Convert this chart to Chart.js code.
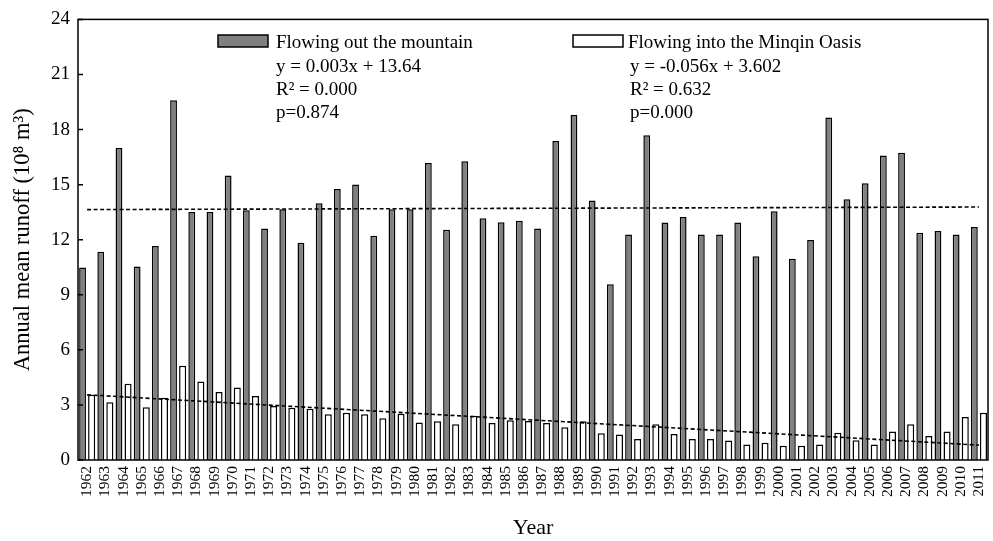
<!DOCTYPE html>
<html>
<head>
<meta charset="utf-8">
<script src="https://cdn.jsdelivr.net/npm/chart.js@4.4.0/dist/chart.umd.min.js"></script>
<style>
  body { margin: 0; background: #fff; }
  #wrap { width: 993px; height: 541px; position: relative; }
</style>
</head>
<body>
<div id="wrap"><canvas id="runoffChart"></canvas></div>
<script>
var years = ['1962', '1963', '1964', '1965', '1966', '1967', '1968', '1969', '1970', '1971',
  '1972', '1973', '1974', '1975', '1976', '1977', '1978', '1979', '1980', '1981',
  '1982', '1983', '1984', '1985', '1986', '1987', '1988', '1989', '1990', '1991',
  '1992', '1993', '1994', '1995', '1996', '1997', '1998', '1999', '2000', '2001',
  '2002', '2003', '2004', '2005', '2006', '2007', '2008', '2009', '2010', '2011'];

// flowing out the mountain (10^8 m3)
var outMountain = [10.49, 11.35, 16.99, 10.54, 11.66, 19.6, 13.51, 13.51, 15.5, 13.6,
  12.61, 13.66, 11.84, 13.98, 14.76, 15.01, 12.22, 13.66, 13.66, 16.18,
  12.54, 16.27, 13.17, 12.95, 13.03, 12.61, 17.37, 18.79, 14.13, 9.57,
  12.29, 17.69, 12.94, 13.24, 12.29, 12.29, 12.94, 11.1, 13.55, 10.96,
  11.98, 18.65, 14.2, 15.08, 16.59, 16.74, 12.38, 12.47, 12.29, 12.69];

// flowing into the Minqin Oasis
var intoOasis = [3.55, 3.15, 4.16, 2.88, 3.39, 5.14, 4.27, 3.71, 3.95, 3.48,
  2.94, 2.85, 2.79, 2.49, 2.58, 2.49, 2.27, 2.52, 2.04, 2.11,
  1.95, 2.41, 2.02, 2.16, 2.13, 2.02, 1.78, 2.11, 1.46, 1.39,
  1.14, 1.95, 1.41, 1.14, 1.14, 1.06, 0.85, 0.94, 0.77, 0.77,
  0.85, 1.48, 1.08, 0.85, 1.55, 1.95, 1.31, 1.55, 2.34, 2.58];

// trend line end points
var trendYears = ['1962', '2011'];
var outTrend = [13.64, 13.78];
var intoTrend = [3.55, 0.81];

var outStats = ['y = 0.003x + 13.64', 'R\u00b2 = 0.000', 'p=0.874'];
var intoStats = ['y = -0.056x + 3.602', 'R\u00b2 = 0.632', 'p=0.000'];

var serif = "'Liberation Serif', 'Times New Roman', serif";

function pts(xs, ys) {
  var a = [];
  for (var i = 0; i < xs.length; i++) a.push({ x: xs[i], y: ys[i] });
  return a;
}

// box round the plot, inward y ticks and the legend with the fit stats
var framePlugin = {
  id: 'frame',
  afterDraw: function (chart) {
    var ctx = chart.ctx, a = chart.chartArea, ys = chart.scales.y;
    ctx.save();
    ctx.strokeStyle = '#000';
    ctx.lineWidth = 1.5;
    ctx.strokeRect(a.left, a.top, a.right - a.left, a.bottom - a.top);
    ctx.beginPath();
    ys.ticks.forEach(function (t) {
      var py = ys.getPixelForValue(t.value);
      ctx.moveTo(a.left, py);
      ctx.lineTo(a.left + 5, py);
    });
    ctx.stroke();

    var legendItems = [
      { ds: chart.data.datasets[0], box: 218, text: 276, stats: outStats, statX: 276 },
      { ds: chart.data.datasets[1], box: 573, text: 628, stats: intoStats, statX: 630 }
    ];
    ctx.font = '19px ' + serif;
    ctx.fillStyle = '#000';
    ctx.textBaseline = 'alphabetic';
    legendItems.forEach(function (it) {
      ctx.fillStyle = it.ds.backgroundColor;
      ctx.fillRect(it.box, 35, 50, 12);
      ctx.lineWidth = 1.5;
      ctx.strokeRect(it.box, 35, 50, 12);
      ctx.fillStyle = '#000';
      ctx.fillText(it.ds.label, it.text, 48);
      it.stats.forEach(function (s, i) {
        ctx.fillText(s, it.statX, 71.5 + i * 23.3);
      });
    });
    ctx.restore();
  }
};

var ctx = document.getElementById('runoffChart').getContext('2d');
var runoffChart = new Chart(ctx, {
  type: 'bar',
  data: {
    labels: years,
    datasets: [{
      label: 'Flowing out the mountain',
      data: outMountain,
      backgroundColor: '#808080',
      borderColor: '#000',
      borderWidth: 1.5,
      categoryPercentage: 1.0,
      barPercentage: 0.75,
      order: 1
    }, {
      label: 'Flowing into the Minqin Oasis',
      data: intoOasis,
      backgroundColor: '#ffffff',
      borderColor: '#000',
      borderWidth: 1.5,
      categoryPercentage: 1.0,
      barPercentage: 0.78,
      order: 2
    }, {
      type: 'line',
      label: 'out trend',
      data: pts(trendYears, outTrend),
      borderColor: '#000',
      borderWidth: 1.6,
      borderDash: [4, 2.5],
      pointRadius: 0,
      fill: false,
      order: 0
    }, {
      type: 'line',
      label: 'into trend',
      data: pts(trendYears, intoTrend),
      borderColor: '#000',
      borderWidth: 1.6,
      borderDash: [4, 2.5],
      pointRadius: 0,
      fill: false,
      order: 0
    }]
  },
  options: {
    responsive: true,
    maintainAspectRatio: false,
    animation: false,
    devicePixelRatio: 1,
    layout: { padding: { left: 0, top: 16, right: 5, bottom: 0 } },
    plugins: {
      legend: { display: false },
      tooltip: { enabled: false }
    },
    scales: {
      x: {
        grid: { display: false, drawTicks: false },
        border: { display: false },
        ticks: {
          autoSkip: false,
          minRotation: 90,
          maxRotation: 90,
          padding: 6,
          color: '#000',
          font: { family: serif, size: 15.5 }
        },
        title: {
          display: true,
          text: 'Year',
          color: '#000',
          font: { family: serif, size: 22 },
          padding: { top: 0, bottom: 0 }
        },
        afterFit: function (scale) {
          scale.height = 81;
          scale.paddingLeft = 0;
          scale.paddingRight = 0;
        }
      },
      y: {
        min: 0,
        max: 24,
        grid: { display: false, drawTicks: false },
        border: { display: false },
        ticks: {
          stepSize: 3,
          padding: 8,
          color: '#000',
          font: { family: serif, size: 19 }
        },
        title: {
          display: true,
          text: 'Annual mean runoff (10\u2078 m\u00b3)',
          color: '#000',
          font: { family: serif, size: 22.5 },
          padding: { top: 10, bottom: 0 }
        },
        afterFit: function (scale) { scale.width = 78; }
      }
    }
  },
  plugins: [framePlugin]
});
</script>
</body>
</html>
